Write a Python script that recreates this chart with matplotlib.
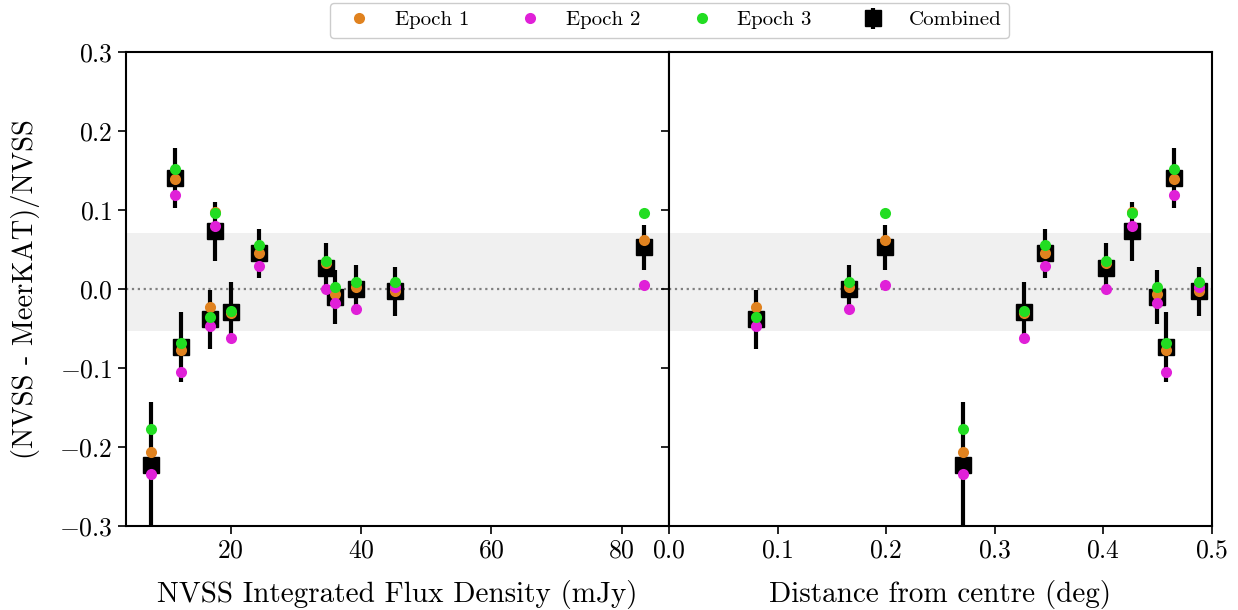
import matplotlib
matplotlib.use("Agg")
import matplotlib.pyplot as plt

plt.rcParams["font.family"] = ["cmr10", "DejaVu Serif"]
plt.rcParams["mathtext.fontset"] = "cm"
plt.rcParams["axes.formatter.use_mathtext"] = True

# Source properties
flux_mjy = [7.7, 11.4, 12.3, 16.8, 17.5, 20.0, 24.4, 34.6, 36.0, 39.2, 45.2, 83.5]
dist_deg = [0.271, 0.465, 0.4576, 0.0805, 0.4267, 0.327, 0.346, 0.4027, 0.4496, 0.1653, 0.4884, 0.199]

# Fractional flux difference per epoch
epoch1 = [-0.206, 0.139, -0.077, -0.023, 0.098, -0.030, 0.045, 0.033, -0.006, 0.002, -0.003, 0.062]
epoch2 = [-0.234, 0.119, -0.105, -0.047, 0.0796, -0.062, 0.0297, 0.0005, -0.018, -0.025, 0.0025, 0.0047]
epoch3 = [-0.177, 0.1515, -0.068, -0.035, 0.0957, -0.028, 0.0555, 0.035, 0.0025, 0.009, 0.009, 0.0957]
combined = [-0.223, 0.141, -0.0735, -0.0385, 0.073, -0.029, 0.045, 0.026, -0.010, 0.000, -0.003, 0.053]
combined_err = [0.080, 0.038, 0.044, 0.037, 0.037, 0.038, 0.031, 0.032, 0.034, 0.030, 0.031, 0.0285]

band_low, band_high = -0.053, 0.071

c_e1 = "#e0821f"
c_e2 = "#e020d8"
c_e3 = "#22dd22"

fig, axes = plt.subplots(1, 2, figsize=(12.38, 6.10), dpi=100, sharey=True)
fig.subplots_adjust(left=0.1018, right=0.979, top=0.9148, bottom=0.1377, wspace=0)

for ax, xvals in zip(axes, [flux_mjy, dist_deg]):
    ax.axhspan(band_low, band_high, color="#f0f0f0", zorder=0, lw=0)
    ax.axhline(0, color="gray", ls=":", lw=1.6, zorder=1)
    ax.errorbar(xvals, combined, yerr=combined_err, fmt="s", color="black",
                ms=12, elinewidth=3, capsize=0, zorder=2, label="Combined")
    ax.plot(xvals, epoch1, "o", color=c_e1, ms=8, mew=0, zorder=3, label="Epoch 1")
    ax.plot(xvals, epoch2, "o", color=c_e2, ms=8, mew=0, zorder=4, label="Epoch 2")
    ax.plot(xvals, epoch3, "o", color=c_e3, ms=8, mew=0, zorder=5, label="Epoch 3")
    ax.tick_params(labelsize=18.5, width=1.2, length=6)
    for s in ax.spines.values():
        s.set_linewidth(1.5)

axes[0].set_ylim(-0.3, 0.3)
axes[0].set_yticks([-0.3, -0.2, -0.1, 0.0, 0.1, 0.2, 0.3])
axes[0].set_xticks([20, 40, 60, 80])
axes[1].set_xlim(0, 0.5)
axes[1].set_xticks([0.0, 0.1, 0.2, 0.3, 0.4, 0.5])
axes[1].tick_params(axis="y", labelleft=False)

axes[0].set_ylabel("(NVSS - MeerKAT)/NVSS", fontsize=20.5, labelpad=14)
axes[0].set_xlabel("NVSS Integrated Flux Density (mJy)", fontsize=21, labelpad=12)
axes[1].set_xlabel("Distance from centre (deg)", fontsize=21, labelpad=12)

handles, labels = axes[0].get_legend_handles_labels()
order = [labels.index(k) for k in ["Epoch 1", "Epoch 2", "Epoch 3", "Combined"]]
fig.legend([handles[i] for i in order], [labels[i] for i in order],
           loc="center", bbox_to_anchor=(0.541, 0.967), ncol=4, fontsize=15,
           columnspacing=1.95, handletextpad=0.7, framealpha=1, edgecolor="#cccccc")

fig.savefig("out.png", dpi=100)
